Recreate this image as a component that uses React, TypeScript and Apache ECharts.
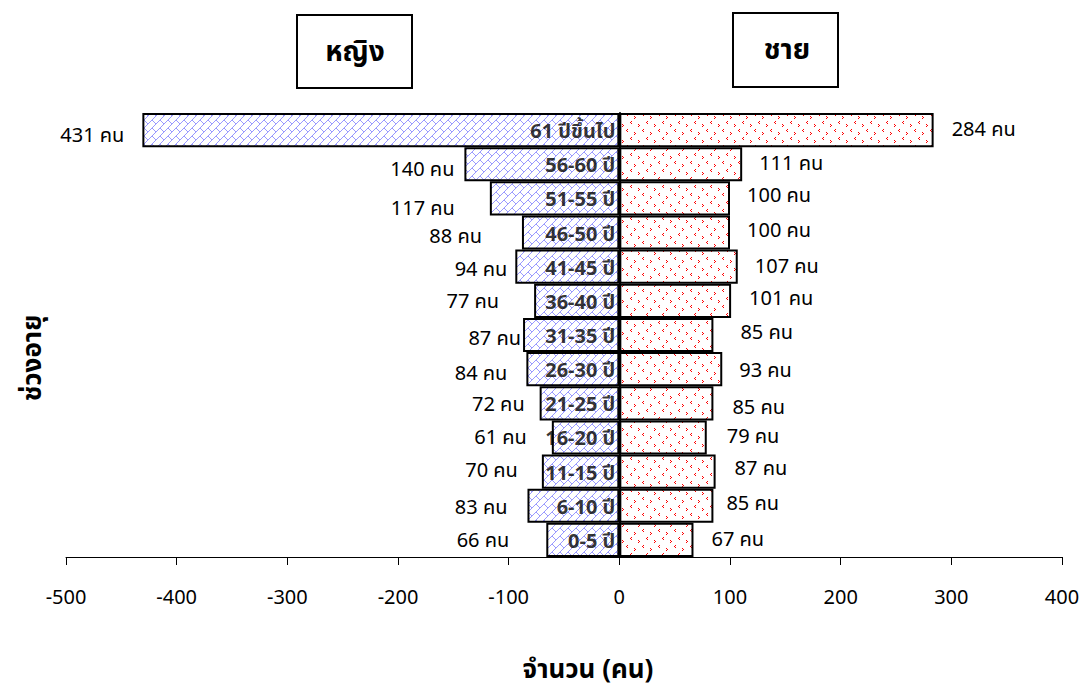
import React, { useEffect, useRef } from "react";
import * as echarts from "echarts";

const categories = ["0-5 ปี", "6-10 ปี", "11-15 ปี", "16-20 ปี", "21-25 ปี", "26-30 ปี", "31-35 ปี", "36-40 ปี", "41-45 ปี", "46-50 ปี", "51-55 ปี", "56-60 ปี", "61 ปีขึ้นไป"];
const femaleValues = [66, 83, 70, 61, 72, 84, 87, 77, 94, 88, 117, 140, 431];
const maleValues = [67, 85, 87, 79, 85, 93, 85, 101, 107, 100, 100, 111, 284];
const xTicks = { min: -500, max: 400, interval: 100 };
const femaleName = "หญิง";
const maleName = "ชาย";
const xAxisName = "จำนวน (คน)";
const yAxisName = "ช่วงอายุ";
const unit = "คน";

// label placement tweaks (style only): [gap from bar end, vertical shift]
const femaleLabelTweak = [[37, 1], [20, 2], [24, -1], [25, 1], [15, 2], [19, 5], [2, 4], [35, 1], [8, 3], [40, 4], [35, 11], [10, 6], [18, 6]];
const maleLabelTweak = [[18, 0], [13, -2], [19, -3], [20, 0], [19, 5], [17, 2], [27, -2], [18, -2], [17, 0], [17, -2], [17, -2], [17, 0], [18, 0]];

const FONT = "Tahoma, 'Noto Sans Thai', 'Noto Sans', 'DejaVu Sans', sans-serif";

function femalePattern() {
  const c = document.createElement("canvas");
  c.width = 8;
  c.height = 8;
  const g = c.getContext("2d")!;
  g.fillStyle = "#ffffff";
  g.fillRect(0, 0, 8, 8);
  g.strokeStyle = "#9a9aff";
  g.lineWidth = 1;
  g.beginPath();
  g.moveTo(-1, 9);
  g.lineTo(9, -1);
  g.moveTo(0, 0);
  g.lineTo(4, 4);
  g.stroke();
  return c;
}

function malePattern() {
  const c = document.createElement("canvas");
  c.width = 16;
  c.height = 16;
  const g = c.getContext("2d")!;
  g.fillStyle = "#ffffff";
  g.fillRect(0, 0, 16, 16);
  g.fillStyle = "#ff0000";
  const px = (x: number, y: number) => g.fillRect(x, y, 1, 1);
  const lt = (x: number, y: number) => { px(x + 1, y); px(x, y + 1); px(x + 1, y + 2); };
  const gt = (x: number, y: number) => { px(x, y); px(x + 1, y + 1); px(x, y + 2); };
  lt(2, 1);
  gt(10, 4);
  lt(6, 9);
  gt(14, 12);
  return c;
}

export default function App() {
  const ref = useRef<HTMLDivElement>(null);
  useEffect(() => {
    if (!ref.current) return;
    const chart = echarts.init(ref.current, null, { renderer: "svg" });
    const fp = femalePattern();
    const mp = malePattern();
    const labelBase = { show: true, color: "#000", fontSize: 20, fontFamily: FONT };
    chart.setOption({
      animation: false,
      backgroundColor: "#ffffff",
      textStyle: { fontFamily: FONT },
      grid: { left: 66, right: 28, top: 113, bottom: 136, containLabel: false, outerBoundsMode: "none" },
      xAxis: {
        type: "value",
        min: xTicks.min,
        max: xTicks.max,
        interval: xTicks.interval,
        splitLine: { show: false },
        axisLine: { show: true, lineStyle: { color: "#000", width: 1 } },
        axisTick: { show: true, length: 8, lineStyle: { color: "#000" } },
        axisLabel: { color: "#000", fontSize: 20, margin: 29, fontFamily: "'Noto Sans', " + FONT },
      },
      yAxis: {
        type: "category",
        data: categories,
        axisLine: { show: true, onZero: true, lineStyle: { color: "#000", width: 2 } },
        axisTick: { show: false },
        splitLine: { show: false },
        axisLabel: { show: false },
      },
      series: [
        {
          name: femaleName,
          type: "bar",
          data: femaleValues.map((v, i) => ({
            value: -v,
            label: { offset: [-(femaleLabelTweak[i][0] - 4), femaleLabelTweak[i][1]] },
          })),
          barWidth: "100%",
          barGap: "-100%",
          itemStyle: {
            color: { image: fp, repeat: "repeat", imageWidth: 8, imageHeight: 8 },
            borderColor: "#000",
            borderWidth: 2,
          },
          label: {
            ...labelBase,
            position: "left",
            distance: 4,
            formatter: (p: any) => `${Math.abs(p.value)} ${unit}`,
          },
        },
        {
          name: maleName,
          type: "bar",
          data: maleValues.map((v, i) => ({
            value: v,
            label: { offset: [maleLabelTweak[i][0] - 4, maleLabelTweak[i][1]] },
          })),
          barWidth: "100%",
          barGap: "-100%",
          itemStyle: {
            color: { image: mp, repeat: "repeat", imageWidth: 16, imageHeight: 16 },
            borderColor: "#000",
            borderWidth: 2,
          },
          label: {
            ...labelBase,
            position: "right",
            distance: 4,
            formatter: (p: any) => `${p.value} ${unit}`,
          },
        },
        {
          name: "ช่วงอายุ-label",
          type: "scatter",
          data: categories.map((c) => [0, c]),
          symbolSize: 0,
          z: 10,
          silent: true,
          label: {
            show: true,
            position: "left",
            distance: 4,
            offset: [0, 2],
            color: "#000",
            fontSize: 20,
            fontWeight: "bold",
            fontFamily: FONT,
            formatter: (p: any) => p.value[1],
          },
        },
      ],
      graphic: [
        {
          type: "group",
          children: [
            { type: "rect", shape: { x: 297, y: 15, width: 115, height: 73 }, style: { fill: "#fff", stroke: "#000", lineWidth: 2 } },
            { type: "text", x: 355, y: 52, style: { text: femaleName, fill: "#000", fontSize: 28, fontWeight: "bold", fontFamily: FONT, align: "center", verticalAlign: "middle" } },
            { type: "rect", shape: { x: 733, y: 13, width: 105, height: 74 }, style: { fill: "#fff", stroke: "#000", lineWidth: 2 } },
            { type: "text", x: 787, y: 50, style: { text: maleName, fill: "#000", fontSize: 28, fontWeight: "bold", fontFamily: FONT, align: "center", verticalAlign: "middle" } },
            { type: "text", x: 33, y: 358, rotation: Math.PI / 2, style: { text: yAxisName, fill: "#000", fontSize: 26, fontWeight: "bold", fontFamily: FONT, align: "center", verticalAlign: "middle" } },
            { type: "text", x: 588, y: 670, style: { text: xAxisName, fill: "#000", fontSize: 26, fontWeight: "bold", fontFamily: FONT, align: "center", verticalAlign: "middle" } },
          ],
        },
      ],
    });
    return () => chart.dispose();
  }, []);
  return <div ref={ref} style={{ position: "fixed", left: 0, top: 0, width: 1090, height: 693 }} />;
}
